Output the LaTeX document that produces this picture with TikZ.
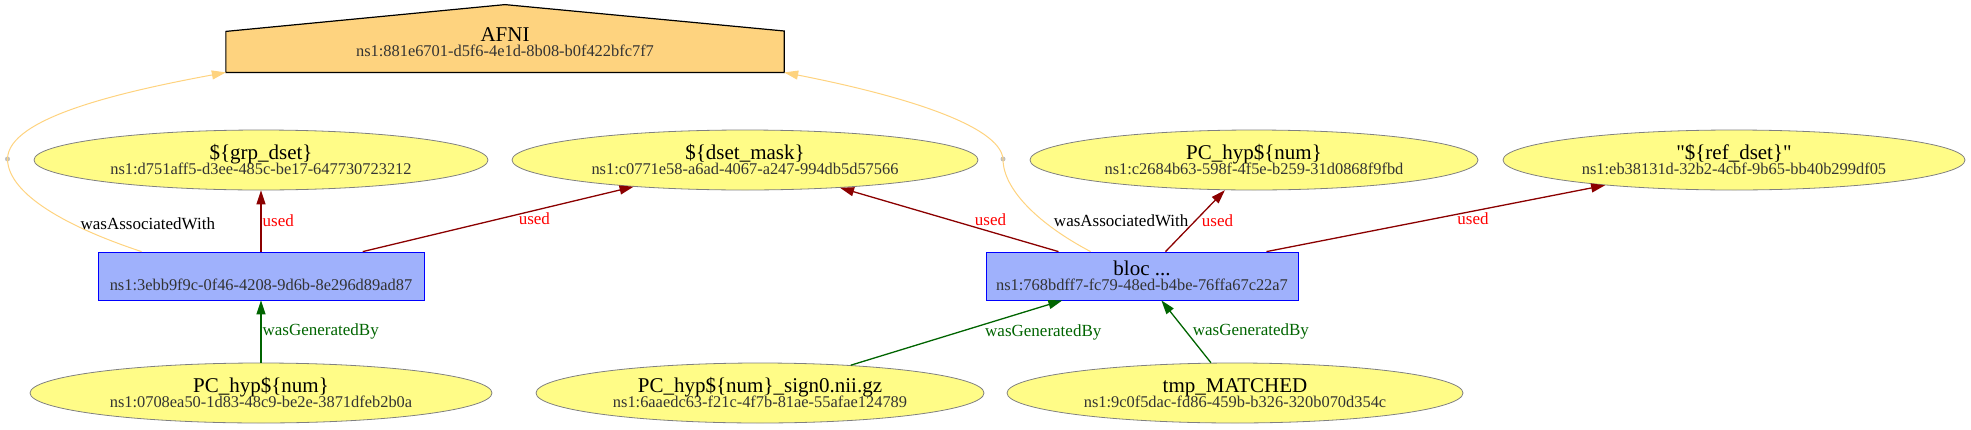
\documentclass[tikz,border=0pt]{standalone}
\usepackage{fontspec}
\setmainfont{Liberation Serif}
\newfontfamily\quotefont{Liberation Serif}
\usetikzlibrary{shapes.geometric,arrows.meta,backgrounds}
\definecolor{entityfill}{HTML}{FFFC87}
\definecolor{activityfill}{HTML}{9FB1FC}
\definecolor{agentfill}{HTML}{FED37F}
\definecolor{idgray}{HTML}{333333}
\definecolor{usedred}{HTML}{8B0000}
\definecolor{gengreen}{HTML}{006400}
\newcommand\titlefont{\fontsize{10.5}{7.5}\selectfont\lineskiplimit=-20pt}
\newcommand\idfont{\fontsize{8.2}{7.5}\selectfont\color{idgray}}
\newcommand\provlbl[2]{#1\\{\idfont #2}}
\newcommand\dq{{\quotefont"}}
\begin{document}
\begin{tikzpicture}[x=0.5pt,y=-0.5pt,>={Triangle[length=7pt,width=4.5pt]}]
  \tikzstyle{entity}=[ellipse, draw=gray, fill=entityfill, minimum height=30pt, inner sep=0pt, align=center, font=\titlefont]
  \tikzstyle{activity}=[rectangle, draw=blue, fill=activityfill, minimum height=24pt, inner sep=0pt, align=center, font=\titlefont]
  \tikzstyle{agent}=[rectangle, minimum width=278.75pt, minimum height=30pt, inner sep=0pt, align=center, font=\titlefont]
  \tikzstyle{pointnode}=[circle, fill=gray!50, minimum size=2.5pt, inner sep=0pt]
  \tikzstyle{usededge}=[usedred, line width=0.65pt, ->]
  \tikzstyle{genedge}=[gengreen, line width=0.65pt, ->]
  \tikzstyle{assocedge}=[agentfill, line width=0.5pt]
  \tikzstyle{usedlbl}=[text=red, font=\fontsize{8.5}{9}\selectfont, inner sep=0pt]
  \tikzstyle{genlbl}=[text=gengreen, font=\fontsize{8.5}{9}\selectfont, inner sep=0pt]
  \tikzstyle{assoclbl}=[text=black, font=\fontsize{8.5}{9}\selectfont, inner sep=0pt]
  \useasboundingbox (0,0) rectangle (1971,429);
  % agent
  \node[agent] (afni) at (505,42) {\provlbl{AFNI}{ns1:881e6701-d5f6-4e1d-8b08-b0f422bfc7f7}};
  \begin{scope}[on background layer]
    \draw[fill=agentfill, line width=0.6pt] (afni.south west) -- ++(0,-41) -- ([yshift=3.5pt]afni.north)
      -- (afni.north east |- 0,31) -- (afni.south east) -- cycle;
  \end{scope}
  % entities
  \node[entity, minimum width=227pt] (grp) at (261,160) {\provlbl{\$\{grp\_dset\}}{ns1:d751aff5-d3ee-485c-be17-647730723212}};
  \node[entity, minimum width=233pt] (mask) at (745,160) {\provlbl{\$\{dset\_mask\}}{ns1:c0771e58-a6ad-4067-a247-994db5d57566}};
  \node[entity, minimum width=224pt] (hyptop) at (1254,160) {\provlbl{PC\_hyp\$\{num\}}{ns1:c2684b63-598f-4f5e-b259-31d0868f9fbd}};
  \node[entity, minimum width=231pt] (ref) at (1734,160) {\provlbl{\dq\$\{ref\_dset\}\dq}{ns1:eb38131d-32b2-4cbf-9b65-bb40b299df05}};
  \node[entity, minimum width=231pt] (hypbot) at (261,393) {\provlbl{PC\_hyp\$\{num\}}{ns1:0708ea50-1d83-48c9-be2e-3871dfeb2b0a}};
  \node[entity, minimum width=224pt] (sign) at (760,393) {\provlbl{PC\_hyp\$\{num\}\_sign0.nii.gz}{ns1:6aaedc63-f21c-4f7b-81ae-55afae124789}};
  \node[entity, minimum width=228pt] (tmp) at (1235,393) {\provlbl{tmp\_MATCHED}{ns1:9c0f5dac-fd86-459b-b326-320b070d354c}};
  % activities
  \node[activity, minimum width=163pt] (act1) at (261,276) {\provlbl{\phantom{bloc ...}}{ns1:3ebb9f9c-0f46-4208-9d6b-8e296d89ad87}};
  \node[activity, minimum width=156pt] (act2) at (1142,276) {\provlbl{bloc ...}{ns1:768bdff7-fc79-48ed-b4be-76ffa67c22a7}};
  \node[pointnode] (dot1) at (7.5,159) {};
  \node[pointnode] (dot2) at (1003,159) {};
  % used
  \draw[usededge] (act1) -- (grp) node[usedlbl, midway, right=0.5pt] {used};
  \draw[usededge] (act1) -- (mask) node[usedlbl, midway, right=10pt] {used};
  \draw[usededge] (act2) -- (mask) node[usedlbl, midway, right=12.5pt] {used};
  \draw[usededge] (act2) -- (hyptop) node[usedlbl, midway, right=3pt] {used};
  \draw[usededge] (act2) -- (ref) node[usedlbl, midway, right=10.5pt] {used};
  % wasGeneratedBy
  \draw[genedge] (hypbot) -- (act1) node[genlbl, midway, right=0.5pt] {wasGeneratedBy};
  \draw[genedge] (sign) -- (act2) node[genlbl, midway, right=14pt] {wasGeneratedBy};
  \draw[genedge] (tmp) -- (act2) node[genlbl, midway, right=3pt] {wasGeneratedBy};
  % wasAssociatedWith
  \draw[assocedge] (act1.north west) ++(44,0) .. controls (70,228) and (8,195) .. (dot1.center)
    node[assoclbl, pos=0.35, right=4pt] {wasAssociatedWith};
  \draw[assocedge, ->] (dot1.center) .. controls (8,118) and (120,92) .. (afni.south west);
  \draw[assocedge] (act2.north west) ++(105,0) .. controls (1040,225) and (1003,190) .. (dot2.center)
    node[assoclbl, pos=0.35, right=5pt] {wasAssociatedWith};
  \draw[assocedge, ->] (dot2.center) .. controls (1000,125) and (900,95) .. (afni.south east);
\end{tikzpicture}
\end{document}
